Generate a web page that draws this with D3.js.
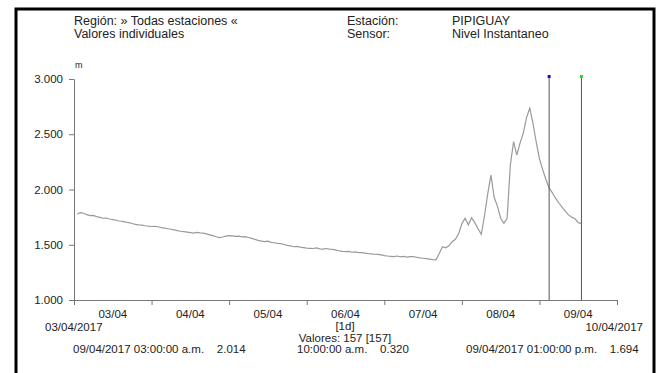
<!DOCTYPE html>
<html>
<head>
    <meta charset="utf-8">
    <title>PIPIGUAY - Nivel Instantaneo</title>
    <style>
        body { margin: 0; background: #fff; }
        svg { display: block; }
        text { font-family: "Liberation Sans", Arial, sans-serif; fill: #222; }
        .axis path, .axis line { stroke: #777; }
        .axis text { font-size: 11.5px; fill: #222; }
    </style>
    <script src="https://d3js.org/d3.v7.min.js"></script>
</head>
<body>
<script>
  // hourly readings, 03/04/2017 01:00 .. 09/04/2017 13:00 (157 values, mm)
  var startHour = new Date(2017, 3, 3, 1);
  var nivel = [
    1778, 1790, 1785, 1772, 1763, 1765, 1755, 1748, 1740, 1742, 1733, 1728,
    1722, 1715, 1712, 1705, 1700, 1692, 1685, 1680, 1678, 1672, 1668, 1665,
    1667, 1663, 1655, 1650, 1645, 1640, 1635, 1628, 1622, 1618, 1614, 1610,
    1606, 1612, 1607, 1605, 1598, 1590, 1582, 1572, 1564, 1570, 1578, 1582,
    1580, 1575, 1578, 1572, 1573, 1566, 1558, 1548, 1540, 1533, 1528, 1532,
    1522, 1518, 1513, 1510, 1502, 1495, 1490, 1482, 1485, 1478, 1474, 1470,
    1468, 1466, 1472, 1463, 1460, 1466, 1461, 1458, 1452, 1446, 1440, 1437,
    1440, 1432, 1435, 1428, 1428, 1424, 1420, 1417, 1414, 1413, 1408, 1402,
    1398, 1395, 1392, 1398, 1390, 1394, 1388, 1393, 1392, 1387, 1382, 1378,
    1374, 1370, 1366, 1364, 1420, 1482, 1472, 1490, 1528, 1550, 1600, 1690,
    1739, 1680, 1745, 1700, 1645, 1595, 1760, 1960, 2131, 1930, 1850, 1740,
    1694, 1740, 2222, 2433, 2312, 2420, 2509, 2650, 2735, 2600, 2430, 2280,
    2180, 2090, 2014, 1970, 1920, 1880, 1840, 1805, 1770, 1750, 1735, 1700,
    1694
  ];
  var yTicks = [1000, 1500, 2000, 2500, 3000];
  var markers = [
    {t: new Date(2017, 3, 9, 3), color: "#1010d0"},
    {t: new Date(2017, 3, 9, 13), color: "#20e020"}
  ];
  var headerLeft = ["Región: » Todas estaciones «", "Valores individuales"];
  var headerMid = ["Estación:", "Sensor:"];
  var headerRight = ["PIPIGUAY", "Nivel Instantaneo"];

  var w = 660, h = 373;
  var svg = d3.select("body").append("svg").attr("width", w).attr("height", h);

  var data = nivel.map(function (v, i) {
    return {t: d3.timeHour.offset(startHour, i), v: v};
  });

  var t0 = new Date(2017, 3, 3), t1 = new Date(2017, 3, 10);
  var x = d3.scaleTime().domain([t0, t1]).range([74, 617]);
  var y = d3.scaleLinear().domain([1000, 3000]).range([300, 79]);
  var loc = d3.formatLocale({decimal: ",", thousands: ".", grouping: [3], currency: ["", ""]});

  // frame
  svg.append("rect").attr("x", 16).attr("y", 9).attr("width", 638).attr("height", 380)
     .attr("fill", "none").attr("stroke", "#000").attr("stroke-width", 3);

  // header
  headerLeft.forEach(function (s, i) {
    svg.append("text").attr("x", 74).attr("y", 25 + i * 13).attr("font-size", 12.5).text(s);
  });
  headerMid.forEach(function (s, i) {
    svg.append("text").attr("x", 347).attr("y", 25 + i * 13).attr("font-size", 12.5).text(s);
  });
  headerRight.forEach(function (s, i) {
    svg.append("text").attr("x", 452).attr("y", 25 + i * 13).attr("font-size", 12.5).text(s);
  });

  // y axis
  svg.append("g").attr("class", "axis").attr("transform", "translate(74,0)")
     .call(d3.axisLeft(y).tickValues(yTicks).tickSize(5).tickSizeOuter(0).tickPadding(6)
       .tickFormat(loc.format(",")));
  svg.append("text").attr("x", 75).attr("y", 68).attr("font-size", 9).text("m");

  // x axis, ticks at midnights, labels at noon
  var days = d3.timeDay.range(t0, t1);
  svg.append("g").attr("class", "axis").attr("transform", "translate(0,300)")
     .call(d3.axisBottom(x).tickValues(days.concat([t1])).tickSize(5).tickSizeOuter(0).tickFormat(""));
  svg.selectAll(".dlab").data(days).enter().append("text")
     .attr("class", "dlab")
     .attr("x", function (d) { return x(d3.timeHour.offset(d, 12)); })
     .attr("y", 318).attr("text-anchor", "middle").attr("font-size", 11.5)
     .text(d3.timeFormat("%d/%m"));

  // series
  svg.append("path").datum(data)
     .attr("fill", "none").attr("stroke", "#9a9a9a").attr("stroke-width", 1.2)
     .attr("d", d3.line().x(function (d) { return x(d.t); }).y(function (d) { return y(d.v); }));

  // cursor lines
  markers.forEach(function (m) {
    svg.append("line").attr("x1", x(m.t)).attr("x2", x(m.t)).attr("y1", 77).attr("y2", 300)
       .attr("stroke", "#555").attr("stroke-width", 1);
    svg.append("rect").attr("x", x(m.t) - 1.5).attr("y", 75).attr("width", 3).attr("height", 3)
       .attr("fill", m.color);
  });

  // footer
  var fmt = d3.timeFormat("%d/%m/%Y");
  svg.append("text").attr("x", 45).attr("y", 331).attr("font-size", 11.5).text(fmt(t0));
  svg.append("text").attr("x", 643).attr("y", 331).attr("text-anchor", "end").attr("font-size", 11.5).text(fmt(t1));
  svg.append("text").attr("x", 345).attr("y", 330).attr("text-anchor", "middle").attr("font-size", 11.5).text("[1d]");
  svg.append("text").attr("x", 345).attr("y", 342).attr("text-anchor", "middle").attr("font-size", 11.5)
     .text("Valores: " + nivel.length + " [" + nivel.length + "]");
  svg.append("text").attr("x", 73).attr("y", 353).attr("font-size", 11.5).attr("xml:space", "preserve")
     .text("09/04/2017 03:00:00 a.m.    2.014");
  svg.append("text").attr("x", 297).attr("y", 353).attr("font-size", 11.5).attr("xml:space", "preserve")
     .text("10:00:00 a.m.    0.320");
  svg.append("text").attr("x", 466).attr("y", 353).attr("font-size", 11.5).attr("xml:space", "preserve")
     .text("09/04/2017 01:00:00 p.m.    1.694");
</script>
</body>
</html>
